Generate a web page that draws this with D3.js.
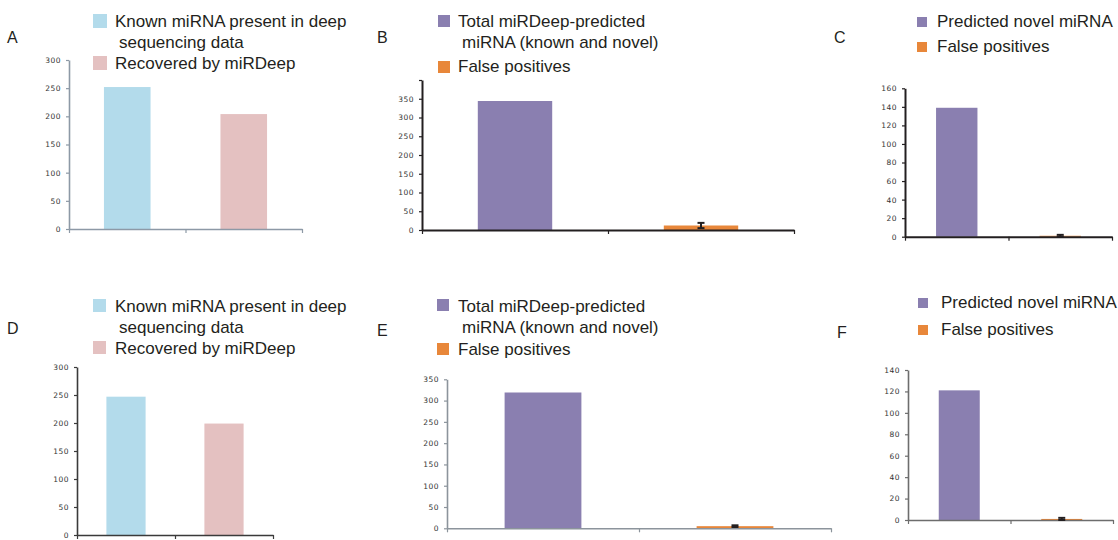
<!DOCTYPE html>
<html>
<head>
<meta charset="utf-8">
<script src="https://cdn.jsdelivr.net/npm/d3@7"></script>
<style>
  body { margin: 0; background: #fff; }
  svg { display: block; }
  .legend text { font-family: "Liberation Sans", Arial, sans-serif; font-size: 17px; fill: #231f20; }
  .letter { font-family: "Liberation Sans", Arial, sans-serif; font-size: 16px; fill: #231f20; }
  .tick text { font-family: "DejaVu Sans", sans-serif; font-size: 7.5px; fill: #333; letter-spacing: 0.5px; }
</style>
</head>
<body>
<svg id="chart" width="1118" height="540"></svg>
<script>
// data
const legendAD = [['Known miRNA present in deep', ' sequencing data'], ['Recovered by miRDeep']];
const legendBE = [['Total miRDeep-predicted', ' miRNA (known and novel)'], ['False positives']];
const legendCF = [['Predicted novel miRNA'], ['False positives']];

const colorsAD = ['#b3dbeb', '#e4c1c1'];
const colorsBF = ['#8a7fb0', '#e8873a'];

const valuesA = [252, 204];
const valuesB = [344, 12];
const errorsB = [0, 7];
const valuesC = [139, 1];
const errorsC = [0, 1];
const valuesD = [247, 199];
const valuesE = [319, 5];
const errorsE = [0, 2];
const valuesF = [121, 1];
const errorsF = [0, 1];

const ticksA = [0, 50, 100, 150, 200, 250, 300];
const ticksB = [0, 50, 100, 150, 200, 250, 300, 350, 400];
const ticksC = [0, 20, 40, 60, 80, 100, 120, 140, 160];
const ticksE = [0, 50, 100, 150, 200, 250, 300, 350];
const ticksF = [0, 20, 40, 60, 80, 100, 120, 140];

const svg = d3.select('#chart');

function drawPanel(p) {
  const g = svg.append('g');

  g.append('text').attr('class', 'letter')
    .attr('x', p.letterPos[0]).attr('y', p.letterPos[1]).text(p.letter);

  // legend
  const lg = g.append('g').attr('class', 'legend');
  p.legend.forEach((lines, i) => {
    const it = p.legendItems[i];
    lg.append('rect')
      .attr('x', it.sx).attr('y', it.sy)
      .attr('width', it.size).attr('height', it.size)
      .attr('fill', p.colors[i]);
    lines.forEach((line, j) => {
      lg.append('text')
        .attr('x', p.textX + (j ? 4 : 0))
        .attr('y', it.base + j * 21)
        .text(line.trim());
    });
  });

  const y = d3.scaleLinear().domain([0, p.max]).range([p.y1, p.y0]);
  const x = d3.scaleBand().domain([0, 1]).range([p.x0, p.x1])
    .paddingInner(0.6).paddingOuter(0.3);
  const xb = d3.scaleLinear().domain([0, 2]).range([p.x0, p.x1]);

  // bars
  g.selectAll('.bar').data(p.values).join('rect')
    .attr('class', 'bar')
    .attr('x', (d, i) => x(i))
    .attr('width', x.bandwidth())
    .attr('y', d => y(d))
    .attr('height', d => y(0) - y(d))
    .attr('fill', (d, i) => p.colors[i]);

  // y axis
  const ya = g.append('g')
    .attr('transform', `translate(${p.x0},0)`)
    .call(d3.axisLeft(y).tickValues(p.ticks).tickSize(3).tickSizeOuter(0).tickPadding(5)
      .tickFormat(d => p.hideTop && d === p.max ? '' : d));
  ya.select('.domain').attr('stroke', p.axisColor).attr('stroke-width', p.axisWidth);
  ya.selectAll('.tick line').attr('stroke', p.axisColor).attr('stroke-width', 1.2);

  // x axis
  const xa = g.append('g')
    .attr('transform', `translate(0,${p.y1})`)
    .call(d3.axisBottom(xb).tickValues([0, 1, 2]).tickSize(4).tickSizeOuter(0).tickFormat(''));
  xa.select('.domain').attr('stroke', p.axisColor).attr('stroke-width', p.axisWidth);
  xa.selectAll('.tick line').attr('stroke', p.axisColor).attr('stroke-width', 1.2);

  // error bars
  if (p.errors) {
    p.errors.forEach((e, i) => {
      if (!e) return;
      const cx = x(i) + x.bandwidth() / 2;
      const v = p.values[i];
      const eg = g.append('g').attr('stroke', '#231f20').attr('stroke-width', 2);
      eg.append('line').attr('x1', cx).attr('x2', cx)
        .attr('y1', y(v + e)).attr('y2', y(Math.max(0, v - e)));
      [v + e, Math.max(0, v - e)].forEach(t => {
        eg.append('line').attr('x1', cx - 3.5).attr('x2', cx + 3.5)
          .attr('y1', y(t)).attr('y2', y(t));
      });
    });
  }
}

drawPanel({
  letter: 'A', letterPos: [7, 43], legend: legendAD, colors: colorsAD, textX: 115,
  legendItems: [{ sx: 93, sy: 14, size: 14, base: 27 }, { sx: 93, sy: 56, size: 14, base: 69 }],
  values: valuesA, ticks: ticksA, max: 300,
  x0: 69, x1: 302, y0: 60, y1: 229, axisColor: '#8d99a6', axisWidth: 1.6
});

drawPanel({
  letter: 'B', letterPos: [377, 43], legend: legendBE, colors: colorsBF, textX: 458,
  legendItems: [{ sx: 438, sy: 15, size: 12, base: 27 }, { sx: 438, sy: 61, size: 12, base: 72 }],
  values: valuesB, errors: errorsB, ticks: ticksB, max: 400, hideTop: true,
  x0: 422, x1: 794, y0: 80, y1: 230, axisColor: '#231f20', axisWidth: 2
});

drawPanel({
  letter: 'C', letterPos: [834, 43], legend: legendCF, colors: colorsBF, textX: 937,
  legendItems: [{ sx: 917, sy: 17, size: 10, base: 27 }, { sx: 917, sy: 42, size: 10, base: 52 }],
  values: valuesC, errors: errorsC, ticks: ticksC, max: 160,
  x0: 905, x1: 1112, y0: 88.3, y1: 236.7, axisColor: '#231f20', axisWidth: 2
});

drawPanel({
  letter: 'D', letterPos: [7, 334], legend: legendAD, colors: colorsAD, textX: 115,
  legendItems: [{ sx: 93, sy: 299, size: 13, base: 312 }, { sx: 93, sy: 341, size: 13, base: 354 }],
  values: valuesD, ticks: ticksA, max: 300,
  x0: 77, x1: 273, y0: 367, y1: 535, axisColor: '#3a3a3a', axisWidth: 1.6
});

drawPanel({
  letter: 'E', letterPos: [377, 336], legend: legendBE, colors: colorsBF, textX: 458,
  legendItems: [{ sx: 437, sy: 299, size: 12, base: 312 }, { sx: 437, sy: 343, size: 12, base: 355 }],
  values: valuesE, errors: errorsE, ticks: ticksE, max: 350,
  x0: 447, x1: 831, y0: 379.3, y1: 528.3, axisColor: '#8c949c', axisWidth: 1.6
});

drawPanel({
  letter: 'F', letterPos: [837, 338], legend: legendCF, colors: colorsBF, textX: 941,
  legendItems: [{ sx: 918, sy: 298, size: 10, base: 308 }, { sx: 918, sy: 325, size: 10, base: 335 }],
  values: valuesF, errors: errorsF, ticks: ticksF, max: 140,
  x0: 908, x1: 1113, y0: 370, y1: 520, axisColor: '#6d6d6d', axisWidth: 1.6
});
</script>
</body>
</html>
